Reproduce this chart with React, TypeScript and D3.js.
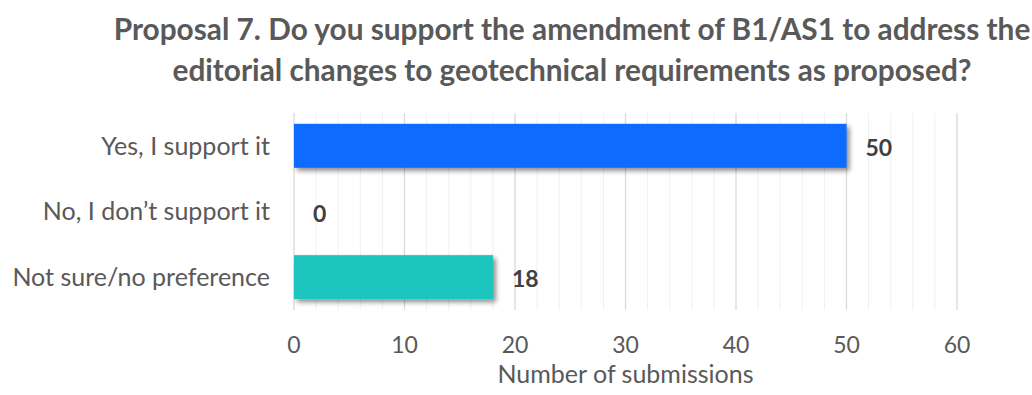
import React from "react";
import * as d3 from "d3";

const categories = ["Yes, I support it", "No, I don’t support it", "Not sure/no preference"];
const values = [50, 0, 18];
const barColors = ["#0a6cff", "#0a6cff", "#1bc5bd"];
const xTicks = [0, 10, 20, 30, 40, 50, 60];
const titleLines = [
  "Proposal 7. Do you support the amendment of B1/AS1 to address the",
  "editorial changes to geotechnical requirements as proposed?",
];
const axisTitle = "Number of submissions";

const W = 1032, H = 395;
const FONT = "Lato, 'Open Sans', sans-serif";

export default function App() {
  const x = d3.scaleLinear().domain([0, 60]).range([294, 957]);
  const y = d3.scaleBand().domain(categories).range([113, 310]).paddingInner(0.33).paddingOuter(0.165);
  const minor = d3.range(0, 61, 2);
  return (
    <svg width={W} height={H} style={{ position: "absolute", left: 0, top: 0, background: "#fff" }}>
      <defs>
        <filter id="sh" x="-5%" y="-30%" width="115%" height="180%">
          <feGaussianBlur in="SourceAlpha" stdDeviation="2.5" />
          <feOffset dx="3" dy="3" result="b" />
          <feComponentTransfer><feFuncA type="linear" slope="0.45" /></feComponentTransfer>
          <feMerge><feMergeNode /><feMergeNode in="SourceGraphic" /></feMerge>
        </filter>
      </defs>
      <rect width={W} height={H} fill="#fff" />
      <g fontFamily={FONT} fontWeight="bold" fill="#595959" textAnchor="middle">
        {titleLines.map((t, i) => (
          <text key={i} x={572} y={40 + i * 41} fontSize={29.8}>{t}</text>
        ))}
      </g>
      {minor.map((v) => (
        <line key={v} x1={x(v)} x2={x(v)} y1={113} y2={310}
          stroke={v % 10 === 0 ? "#d9d9d9" : "#f0f0f0"} strokeWidth={v % 10 === 0 ? 1.3 : 1} />
      ))}
      {categories.map((c, i) => (
        <g key={c}>
          {values[i] > 0 && (
            <rect x={x(0)} y={y(c)!} width={x(values[i]) - x(0)} height={y.bandwidth()} fill={barColors[i]} filter="url(#sh)" />
          )}
          <text x={270} y={y(c)! + y.bandwidth() / 2} dy="0.35em" textAnchor="end" fontFamily={FONT} fontSize={25} fill="#595959">{c}</text>
          <text x={x(values[i]) + 19} y={y(c)! + y.bandwidth() / 2 + 2} dy="0.35em" fontFamily={FONT} fontWeight="bold" fontSize={23} fill="#404040">{values[i]}</text>
        </g>
      ))}
      {xTicks.map((t) => (
        <text key={t} x={x(t)} y={353} textAnchor="middle" fontFamily={FONT} fontSize={23} fill="#595959">{t}</text>
      ))}
      <text x={(x(0) + x(60)) / 2} y={383} textAnchor="middle" fontFamily={FONT} fontSize={25} fill="#595959">{axisTitle}</text>
    </svg>
  );
}
